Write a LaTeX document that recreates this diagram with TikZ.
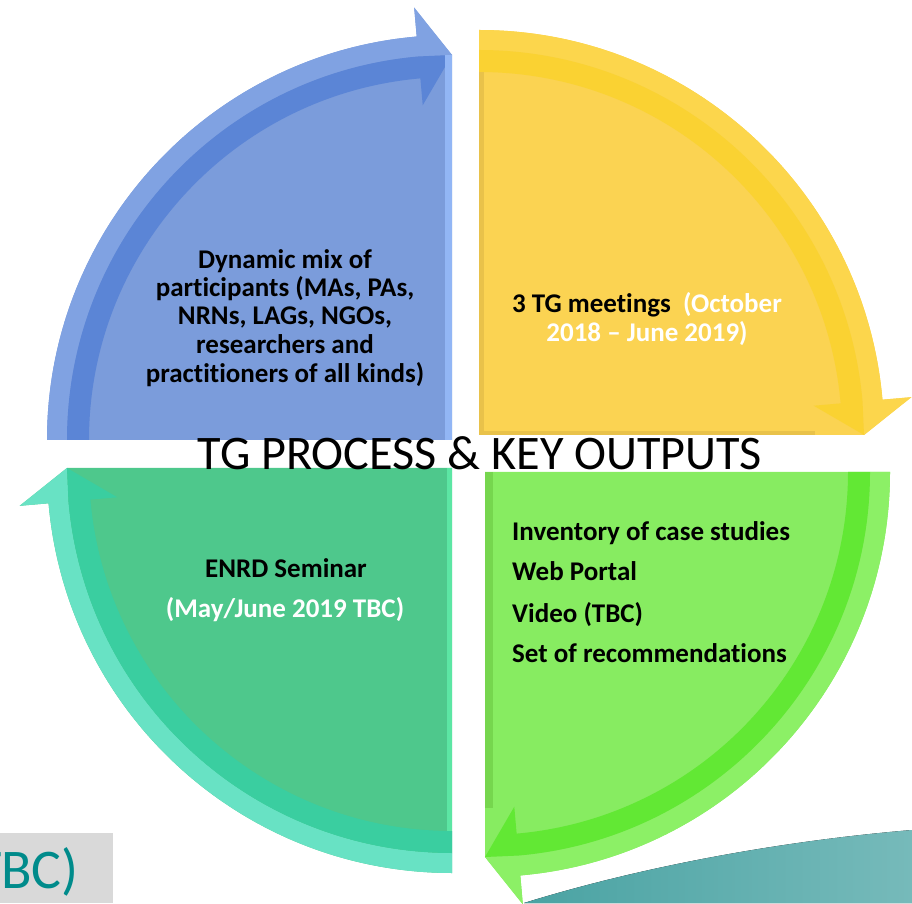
\documentclass[tikz,border=0pt]{standalone}
\usepackage{fontspec}
\setmainfont[Ligatures=NoCommon]{Carlito}
\definecolor{bluemain}{HTML}{7B9CDB}
\definecolor{bluelight}{HTML}{80A2E2}
\definecolor{bluedark}{HTML}{5B85D6}
\definecolor{bluebevel}{HTML}{92B6F5}
\definecolor{yelmain}{HTML}{FBD352}
\definecolor{yellight}{HTML}{FCD64C}
\definecolor{yeldark}{HTML}{FAD232}
\definecolor{yelbevel}{HTML}{E9C24A}
\definecolor{teamain}{HTML}{4EC88C}
\definecolor{tealight}{HTML}{68E2C4}
\definecolor{teadark}{HTML}{3ACEA0}
\definecolor{teabevel}{HTML}{5CE6A4}
\definecolor{grnmain}{HTML}{87EC61}
\definecolor{grnlight}{HTML}{8CF066}
\definecolor{grndark}{HTML}{62E834}
\definecolor{grnbevel}{HTML}{76D64E}
\definecolor{tbcteal}{HTML}{008B8B}
\definecolor{swooshL}{HTML}{4AA3A3}
\definecolor{swooshR}{HTML}{76BABA}
\newcommand\qarrow[5]{%
  \begin{scope}[shift={(#1,#2)}]
    \pgfmathsetmacro\qea{#3-90}
    \pgfmathsetmacro\qhb{#3-85}
    \fill[#4main] (0,0) -- (#3:405) arc[start angle=#3, end angle=\qhb, radius=405pt]
      -- (\qhb:434) -- (\qea:385) -- cycle;
    \fill[#4light] (#3:385) -- (#3:405) arc[start angle=#3, end angle=\qhb, radius=405pt]
      -- (\qhb:434) -- (\qea:385) -- (\qhb:385) arc[start angle=\qhb, end angle=#3, radius=385pt] -- cycle;
    \fill[#4dark] (#3:363) -- (#3:385) arc[start angle=#3, end angle=\qhb, radius=385pt]
      -- (\qea:385) -- (\qhb:336) -- (\qhb:363) arc[start angle=\qhb, end angle=#3, radius=363pt] -- cycle;
    #5
  \end{scope}}
\tikzset{
  boldtxt/.style={inner sep=0pt, font=\bfseries\fontsize{27}{32}\selectfont},
  titletxt/.style={inner sep=0pt, font=\fontsize{48.2}{58}\selectfont},
}
\begin{document}
\begin{tikzpicture}[x=1pt,y=1pt]
\useasboundingbox (0,0) rectangle (912,903);
\clip (0,0) rectangle (912,903);
% blue quadrant (top-left)
\qarrow{452}{463}{180}{blue}{\fill[bluebevel] (-7,0) rectangle (0,385);}
% yellow quadrant (top-right)
\qarrow{479}{468}{90}{yel}{\fill[yelbevel] (0,0) rectangle (5,363); \fill[yelbevel] (0,0) rectangle (336,4);}
% green quadrant (bottom-right)
\qarrow{485}{431}{0}{grn}{\fill[grnbevel] (0,0) rectangle (8,-336);}
% teal quadrant (bottom-left)
\qarrow{452}{435}{270}{tea}{\fill[teabevel] (-5,0) rectangle (0,-363);}
% swoosh
\fill[left color=swooshL, right color=swooshR] (524,0) .. controls (640,36) and (780,62) .. (912,73) -- (912,0) -- cycle;
% gray box
\fill[black!15] (0,0) rectangle (113,70);
\node[inner sep=0pt, anchor=base east, text=tbcteal, font=\fontsize{56}{60}\selectfont] (tbc) at (79,15) {TBC)};
% texts
\node[boldtxt, anchor=base] (b1) at (285,634) {Dynamic mix of};
\node[boldtxt, anchor=base] (b2) at (285,606) {participants (MAs, PAs,};
\node[boldtxt, anchor=base] (b3) at (285,578) {NRNs, LAGs, NGOs,};
\node[boldtxt, anchor=base] (b4) at (285,549) {researchers and};
\node[boldtxt, anchor=base] (b5) at (285,520) {practitioners of all kinds)};
\node[boldtxt, anchor=base] (y1) at (647,590) {3 TG meetings \ \textcolor{white}{(October}};
\node[boldtxt, anchor=base, text=white] (y2) at (647,561) {2018 -- June 2019)};
\node[boldtxt, anchor=base] (t1) at (286,326) {ENRD Seminar};
\node[boldtxt, anchor=base, text=white] (t2) at (285,286) {(May/June 2019 TBC)};
\node[boldtxt, anchor=base west] (g1) at (512,363) {Inventory of case studies};
\node[boldtxt, anchor=base west] (g2) at (512,323) {Web Portal};
\node[boldtxt, anchor=base west] (g3) at (512,281) {Video (TBC)};
\node[boldtxt, anchor=base west] (g4) at (512,241) {Set of recommendations};
\node[titletxt, anchor=base] (title) at (480,433) {TG PROCESS \& KEY OUTPUTS};
\end{tikzpicture}
\end{document}
